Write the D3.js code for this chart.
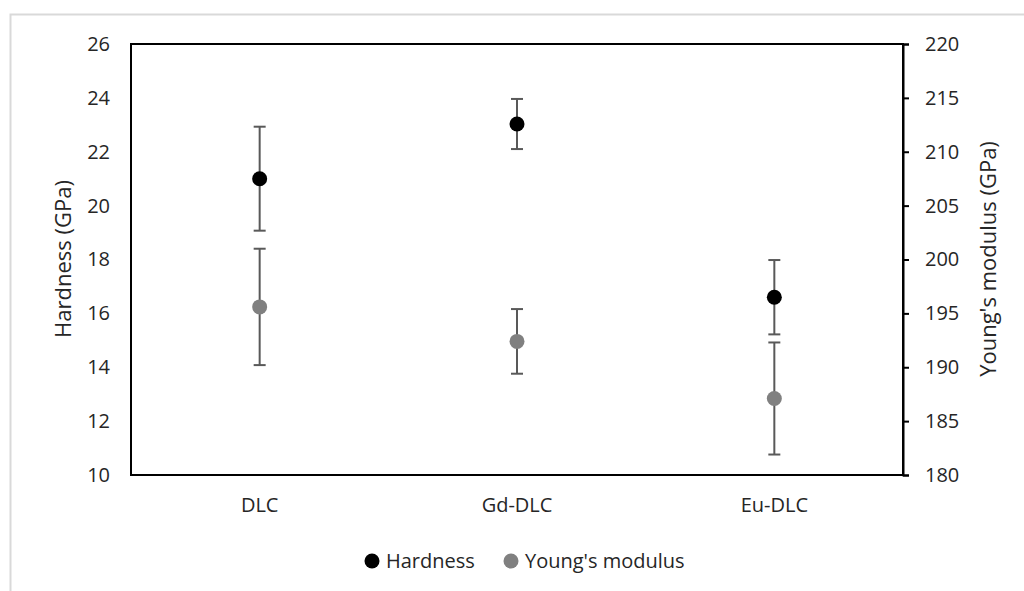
<!DOCTYPE html>
<html>
<head>
<meta charset="utf-8">
<script src="https://cdn.jsdelivr.net/npm/d3@7"></script>
<style>
  body { margin: 0; background: #fff; }
  text { font-family: "Open Sans", sans-serif; fill: #262626; }
</style>
</head>
<body>
<svg id="chart" width="1024" height="591"></svg>
<script>
// samples on the x axis
const samples = ["DLC", "Gd-DLC", "Eu-DLC"];
// hardness (left axis) and its error
const hardness = [21.0, 23.03, 16.6];
const hardnessErr = [1.93, 0.93, 1.38];
// young's modulus (right axis) and its error
const modulus = [195.6, 192.4, 187.1];
const modulusErr = [5.4, 3.0, 5.2];
// tick labels
const leftTicks = [10, 12, 14, 16, 18, 20, 22, 24, 26];
const rightTicks = [180, 185, 190, 195, 200, 205, 210, 215, 220];

const svg = d3.select("#chart");
const pLeft = 131, pRight = 903, pTop = 44, pBottom = 475;

// light frame round the chart
svg.append("path")
     .attr("d", "M10.5,591 V14.5 H1024")
     .attr("fill", "none")
     .attr("stroke", "#d9d9d9")
     .attr("stroke-width", 2);

let x = d3.scaleBand().domain(samples).range([pLeft, pRight]);
let yL = d3.scaleLinear().domain([10, 26]).range([pBottom, pTop]);
let yR = d3.scaleLinear().domain([180, 220]).range([pBottom, pTop]);

// plot box
svg.append("rect")
     .attr("x", pLeft).attr("y", pTop)
     .attr("width", pRight - pLeft).attr("height", pBottom - pTop)
     .attr("fill", "none").attr("stroke", "#000").attr("stroke-width", 2);

// left axis (labels only)
let gL = svg.append("g").attr("transform", `translate(${pLeft},0)`)
     .call(d3.axisLeft(yL).tickValues(leftTicks).tickSize(0).tickPadding(21));
gL.select(".domain").remove();

// right axis with outward ticks
let gR = svg.append("g").attr("transform", `translate(${pRight},0)`)
     .call(d3.axisRight(yR).tickValues(rightTicks).tickSize(6).tickPadding(16));
gR.select(".domain").attr("stroke", "#000").attr("stroke-width", 2);
gR.selectAll(".tick line").attr("stroke", "#000").attr("stroke-width", 2);

// category labels
let gX = svg.append("g").attr("transform", `translate(0,${pBottom})`)
     .call(d3.axisBottom(x).tickSize(0).tickPadding(23));
gX.select(".domain").remove();

svg.selectAll(".tick text")
     .style("font-size", "20px")
     .style("font-family", "'Open Sans', sans-serif")
     .attr("fill", "#262626");

// axis titles
svg.append("text")
     .attr("transform", `translate(71,259) rotate(-90)`)
     .attr("text-anchor", "middle")
     .style("font-size", "22px")
     .text("Hardness (GPa)");
svg.append("text")
     .attr("transform", `translate(996,259) rotate(-90)`)
     .attr("text-anchor", "middle")
     .style("font-size", "22px")
     .text("Young's modulus (GPa)");

// error bars + markers
function drawSeries(vals, errs, yScale, color) {
     let cx = d => x(samples[d]) + x.bandwidth() / 2;
     let g = svg.append("g");
     vals.forEach((v, i) => {
          let xc = cx(i);
          let y1 = yScale(v + errs[i]), y2 = yScale(v - errs[i]);
          g.append("line").attr("x1", xc).attr("x2", xc).attr("y1", y1).attr("y2", y2)
               .attr("stroke", "#595959").attr("stroke-width", 2);
          [y1, y2].forEach(yy => {
               g.append("line").attr("x1", xc - 6).attr("x2", xc + 6).attr("y1", yy).attr("y2", yy)
                    .attr("stroke", "#595959").attr("stroke-width", 2);
          });
          g.append("circle").attr("cx", xc).attr("cy", yScale(v)).attr("r", 7.5).attr("fill", color);
     });
}
drawSeries(modulus, modulusErr, yR, "#808080");
drawSeries(hardness, hardnessErr, yL, "#000000");

// legend
let leg = svg.append("g").attr("transform", "translate(0,561)");
[["Hardness", "#000000", 372], ["Young's modulus", "#808080", 511]].forEach(o => {
     leg.append("circle").attr("cx", o[2]).attr("cy", 0).attr("r", 7.5).attr("fill", o[1]);
     leg.append("text").attr("x", o[2] + 14).attr("y", 0).attr("dy", "0.35em")
          .style("font-size", "20px").text(o[0]);
});
</script>
</body>
</html>
